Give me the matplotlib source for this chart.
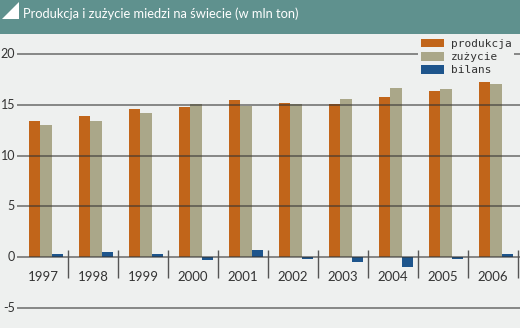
import matplotlib.pyplot as plt
from matplotlib.patches import Polygon

# data (mln ton)
years = ['1997', '1998', '1999', '2000', '2001', '2002', '2003', '2004', '2005', '2006']
produkcja = [13.4, 13.9, 14.55, 14.8, 15.5, 15.2, 15.1, 15.8, 16.4, 17.2]
zuzycie = [13.05, 13.4, 14.2, 15.1, 14.9, 15.05, 15.6, 16.7, 16.6, 17.0]
bilans = [0.35, 0.5, 0.27, -0.32, 0.7, -0.15, -0.5, -0.95, -0.2, 0.3]
yticks = [20, 15, 10, 5, 0, -5]

bg = '#eef0ef'
c_prod = '#c1651a'
c_zuz = '#aaa789'
c_bil = '#1e558c'
teal = '#5f918e'

W, H = 520, 328
fig = plt.figure(figsize=(W / 100, H / 100), dpi=100)
fig.patch.set_facecolor(bg)

# title bar
bar_h = 34
fig.patches.append(plt.Rectangle((0, 1 - bar_h / H), 1, bar_h / H, transform=fig.transFigure,
                                 facecolor=teal, edgecolor='none', zorder=0))
fig.patches.append(Polygon([(2 / W, 1 - 19 / H), (19 / W, 1 - 2 / H), (19 / W, 1 - 19 / H)],
                           closed=True, transform=fig.transFigure, facecolor='white',
                           edgecolor='none', zorder=1))
fig.text(23 / W, 1 - 14 / H, 'Produkcja i zużycie miedzi na świecie (w mln ton)', color='white',
         fontsize=9.3, family=['Lato', 'DejaVu Sans'], va='center', ha='left')

top_px = 36
ax = fig.add_axes([0, 0, 1, 1 - top_px / H])
ax.set_facecolor(bg)
for s in ax.spines.values():
    s.set_visible(False)
ax.set_xticks([])
ax.set_yticks([])

# pixel scale: 50 px per year, 10.16 px per unit
x0 = -0.5 - 18 / 50
x1 = -0.5 + (W - 18) / 50
ax.set_xlim(x0, x1)
y_bot = -5 - 20 / 10.16
y_top = 20 + 18 / 10.16
ax.set_ylim(y_bot, y_top)

xs = list(range(len(years)))
w = 0.23
ax.bar([x - 0.175 for x in xs], produkcja, width=w, color=c_prod, label='produkcja', zorder=2)
ax.bar([x + 0.055 for x in xs], zuzycie, width=w, color=c_zuz, label='zużycie', zorder=2)
ax.bar([x + 0.285 for x in xs], bilans, width=w, color=c_bil, label='bilans', zorder=2)

gx0 = -0.5 - 1 / 50
ax.hlines(yticks, gx0, x1, colors='#333333', alpha=0.65, lw=1.2, zorder=3)
for t in yticks:
    ax.text(-0.5 - 3 / 50, t, str(t), ha='right', va='center', fontsize=9,
            family=['Lato', 'DejaVu Sans'], color='#333333')

ax.vlines([x + 0.5 for x in xs], -2.0, 0.7, colors='#555555', lw=1.0, zorder=3)
for x, yr in zip(xs, years):
    ax.text(x, -1.95, yr, ha='center', va='center', fontsize=9.5,
            family=['Lato', 'DejaVu Sans'], color='#333333')

leg = ax.legend(loc='upper left', bbox_to_anchor=(418 / W, 1 - top_px / H), bbox_transform=fig.transFigure,
                prop={'family': 'DejaVu Sans Mono', 'size': 8}, frameon=True, fancybox=False,
                handlelength=2.1, handleheight=0.8, labelspacing=0.28, handletextpad=0.6,
                borderpad=0.25, borderaxespad=0)
leg.get_frame().set_facecolor(bg)
leg.get_frame().set_edgecolor('none')
leg.get_frame().set_alpha(1)
leg.set_zorder(5)
for t in leg.get_texts():
    t.set_color('#333333')

fig.savefig('out.png', dpi=100, facecolor=bg)
